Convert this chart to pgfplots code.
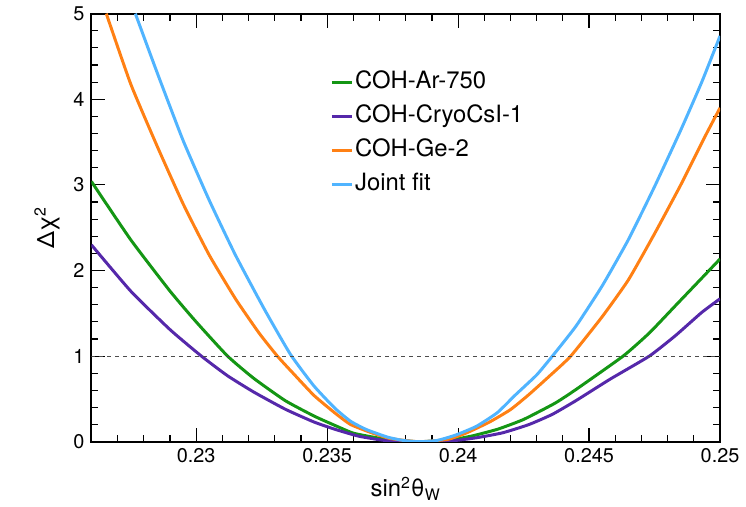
\documentclass[border=0pt]{standalone}
\usepackage{fontspec}
\setmainfont{TeX Gyre Heros}
\usepackage{pgfplots}
\pgfplotsset{compat=1.18}
\usetikzlibrary{calc}

\definecolor{cAr}{RGB}{20,150,20}
\definecolor{cCsI}{RGB}{85,40,170}
\definecolor{cGe}{RGB}{255,128,20}
\definecolor{cJoint}{RGB}{80,180,255}

\begin{document}
\begin{tikzpicture}
\begin{axis}[
  name=ax,
  scale only axis,
  width=316.5pt, height=215.5pt,
  xmin=0.226, xmax=0.25, ymin=0, ymax=5,
  xtick={0.23,0.235,0.24,0.245,0.25},
  minor xtick={0.227,0.228,0.229,0.231,0.232,0.233,0.234,0.236,0.237,0.238,0.239,
               0.241,0.242,0.243,0.244,0.246,0.247,0.248,0.249},
  ytick={0,1,2,3,4,5},
  minor ytick={0.2,0.4,0.6,0.8,1.2,1.4,1.6,1.8,2.2,2.4,2.6,2.8,3.2,3.4,3.6,3.8,4.2,4.4,4.6,4.8},
  major tick length=7pt, minor tick length=3.5pt,
  tick style={black, line width=0.6pt},
  axis line style={line width=1pt},
  scaled x ticks=false,
  xticklabel style={/pgf/number format/.cd, fixed, precision=3},
  /pgf/number format/assume math mode=true,
  tick label style={font=\fontsize{10}{12}\selectfont},
  label style={font=\fontsize{12}{14}\selectfont},
  xlabel={sin\textsuperscript{2}θ\textsubscript{W}},
  ylabel={Δχ\textsuperscript{2}},
  legend style={draw=none, fill=none, at={(0.3795,0.873)}, anchor=north west,
    font=\fontsize{12}{14}\selectfont, row sep=3.1pt, inner sep=0pt,
    nodes={inner sep=1pt, text height=9pt, text depth=3pt}},
  legend cell align=left,
  legend image code/.code={\draw[#1] (0pt,0pt) -- (10pt,0pt);},
  every axis plot/.append style={line width=1.5pt, smooth, tension=0.3},
]
\addplot[cAr] coordinates {
  (0.2260,3.04) (0.2275,2.36) (0.2290,1.76) (0.2300,1.40) (0.2312,1.00)
  (0.2322,0.74) (0.2334,0.48) (0.2345,0.30) (0.2353,0.19) (0.2360,0.10)
  (0.2369,0.046) (0.2377,0.015) (0.2385,0.0) (0.2396,0.015) (0.2405,0.065)
  (0.2415,0.145) (0.2425,0.26) (0.2437,0.45) (0.2445,0.61) (0.2463,1.00)
  (0.2473,1.27) (0.2483,1.59) (0.2493,1.91) (0.2500,2.135)
};
\addlegendentry{COH-Ar-750}
\addplot[cCsI] coordinates {
  (0.2260,2.30) (0.2275,1.76) (0.2290,1.31) (0.2302,1.00) (0.2312,0.77)
  (0.2322,0.58) (0.2334,0.38) (0.2345,0.23) (0.2353,0.145) (0.2362,0.065)
  (0.2372,0.015) (0.2385,0.0) (0.2397,0.008) (0.2407,0.046) (0.2417,0.104)
  (0.2427,0.20) (0.2436,0.32) (0.2445,0.48) (0.2458,0.73) (0.2473,1.00)
  (0.2483,1.24) (0.2493,1.51) (0.2500,1.67)
};
\addlegendentry{COH-CryoCsI-1}
\addplot[cGe] coordinates {
  (0.22657,5.0) (0.2275,4.18) (0.2285,3.46) (0.2295,2.78) (0.2305,2.18)
  (0.2315,1.67) (0.2324,1.27) (0.2331,1.00) (0.2337,0.80) (0.2345,0.54)
  (0.2353,0.335) (0.2359,0.20) (0.2367,0.104) (0.2374,0.038) (0.2385,0.0)
  (0.2396,0.027) (0.2403,0.10) (0.2412,0.23) (0.2420,0.375) (0.2427,0.55)
  (0.2435,0.77) (0.2443,1.00) (0.2455,1.46) (0.2465,1.89) (0.2475,2.43)
  (0.2485,3.00) (0.2494,3.55) (0.2500,3.90)
};
\addlegendentry{COH-Ge-2}
\addplot[cJoint] coordinates {
  (0.22768,5.0) (0.2285,4.32) (0.2295,3.52) (0.2305,2.82) (0.2315,2.18)
  (0.2326,1.55) (0.2336,1.02) (0.2345,0.65) (0.2353,0.39) (0.2359,0.238)
  (0.2365,0.142) (0.2373,0.054) (0.2379,0.015) (0.2385,0.0) (0.2392,0.015)
  (0.2399,0.077) (0.2407,0.18) (0.2415,0.34) (0.2422,0.55) (0.2430,0.78)
  (0.2436,1.00) (0.2445,1.35) (0.2455,1.82) (0.2465,2.36) (0.2475,2.98)
  (0.2485,3.64) (0.2493,4.20) (0.2500,4.74)
};
\addlegendentry{Joint fit}
\addplot[black!70, line width=0.5pt, dash pattern=on 2pt off 2pt, sharp plot, forget plot]
  coordinates {(0.226,1) (0.25,1)};
\end{axis}
\path ($(ax.south west)+(-46pt,-28.5pt)$) rectangle ($(ax.north east)+(10.5pt,6pt)$);
\end{tikzpicture}
\end{document}
